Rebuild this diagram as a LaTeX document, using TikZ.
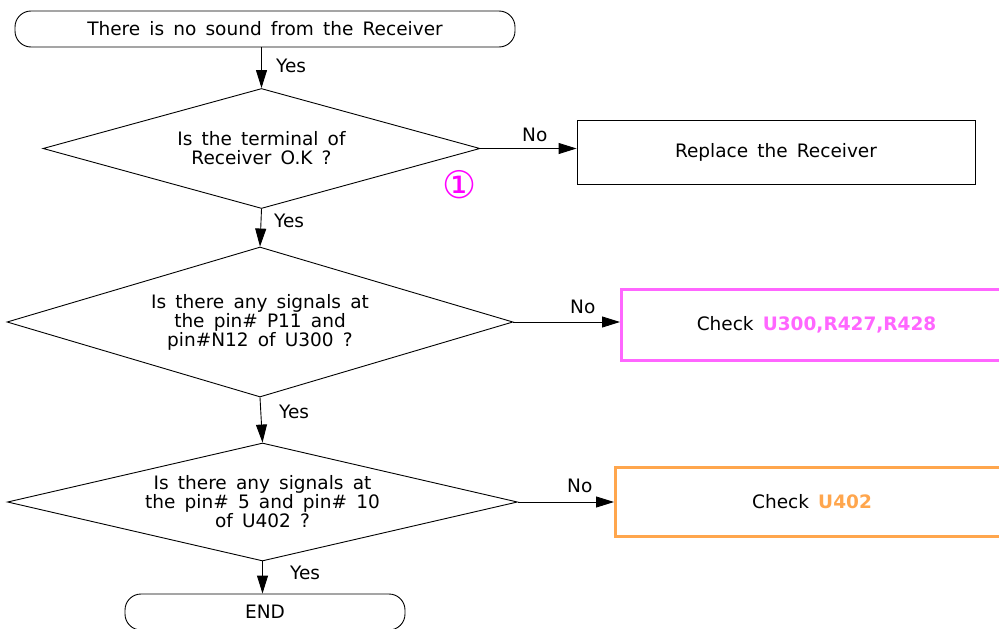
\documentclass[tikz,border=0pt]{standalone}
\usepackage{fontspec}
\setmainfont{DejaVu Sans}[WordSpace=1.56]
\newfontfamily\symfont{DejaVu Sans}
\usetikzlibrary{arrows.meta,shapes.geometric}
\definecolor{pinkm}{RGB}{255,102,255}
\definecolor{orangem}{RGB}{255,166,77}
\definecolor{magm}{RGB}{255,0,255}
\begin{document}
\begin{tikzpicture}[x=1pt,y=-1pt,
  txt/.style={font=\fontsize{18.5}{19}\selectfont, text=black},
  terminal/.style={txt, draw, line width=0.9pt, rounded corners=16pt, minimum width=500pt, minimum height=36pt, inner sep=0pt},
  decision/.style={txt, draw, line width=0.9pt, shape=diamond, inner sep=0pt, align=center},
  procbox/.style={txt, draw, line width=0.9pt, inner sep=0pt},
  colbox/.style={txt, draw, line width=3pt, inner sep=0pt},
  arr/.style={line width=0.9pt, -{Triangle[length=18pt,width=11pt]}},
  lbl/.style={txt, anchor=base west, inner sep=0pt}
]
\clip (0,0) rectangle (999,629);
\fill[white] (0,0) rectangle (999,629);

\node[terminal] (start) at (265,29) {There is no sound from the Receiver};

\node[decision, aspect=3.64, minimum width=437pt, minimum height=120pt] (d1) at (261.5,148.5)
  {Is the terminal of\\Receiver O.K ?};
\node[procbox, minimum width=398pt, minimum height=64pt] (b1) at (776,152) {Replace the Receiver};

\node[decision, aspect=3.37, minimum width=506pt, minimum height=150pt] (d2) at (260,322)
  {Is there any signals at\\the pin\# P11 and\\pin\#N12 of U300 ?};
\node[colbox, draw=pinkm, minimum width=390pt, minimum height=71pt] (b2) at (816.5,325)
  {Check \textcolor{pinkm}{\bfseries U300,R427,R428}};

\node[decision, aspect=4.32, minimum width=510pt, minimum height=118pt] (d3) at (262.5,502)
  {Is there any signals at\\the pin\# 5 and pin\# 10\\of U402 ?};
\node[colbox, draw=orangem, minimum width=393pt, minimum height=69pt] (b3) at (812,502)
  {Check \textcolor{orangem}{\bfseries U402}};

\node[terminal, minimum width=280pt] (end) at (265,612) {END};

\draw[arr] (start.south -| d1.north) -- (d1.north);
\draw[arr] (d1.south) -- (d2.north);
\draw[arr] (d2.south) -- (d3.north);
\draw[arr] (d3.south) -- (d3.south |- end.north);
\draw[arr] (d1.east) -- (d1.east -| b1.west);
\draw[arr] (d2.east) -- (d2.east -| b2.west);
\draw[arr] (d3.east) -- (d3.east -| b3.west);

\node[lbl] (y1) at (276,72) {Yes};
\node[lbl] (y2) at (274,227) {Yes};
\node[lbl] (y3) at (279,418) {Yes};
\node[lbl] (y4) at (290,579) {Yes};
\node[lbl] (n1) at (522,141) {No};
\node[lbl] (n2) at (570,313) {No};
\node[lbl] (n3) at (567,492) {No};

\node[text=magm, font=\symfont\fontsize{38}{38}\selectfont, inner sep=0pt] (c1) at (460,185) {①};
\end{tikzpicture}
\end{document}
